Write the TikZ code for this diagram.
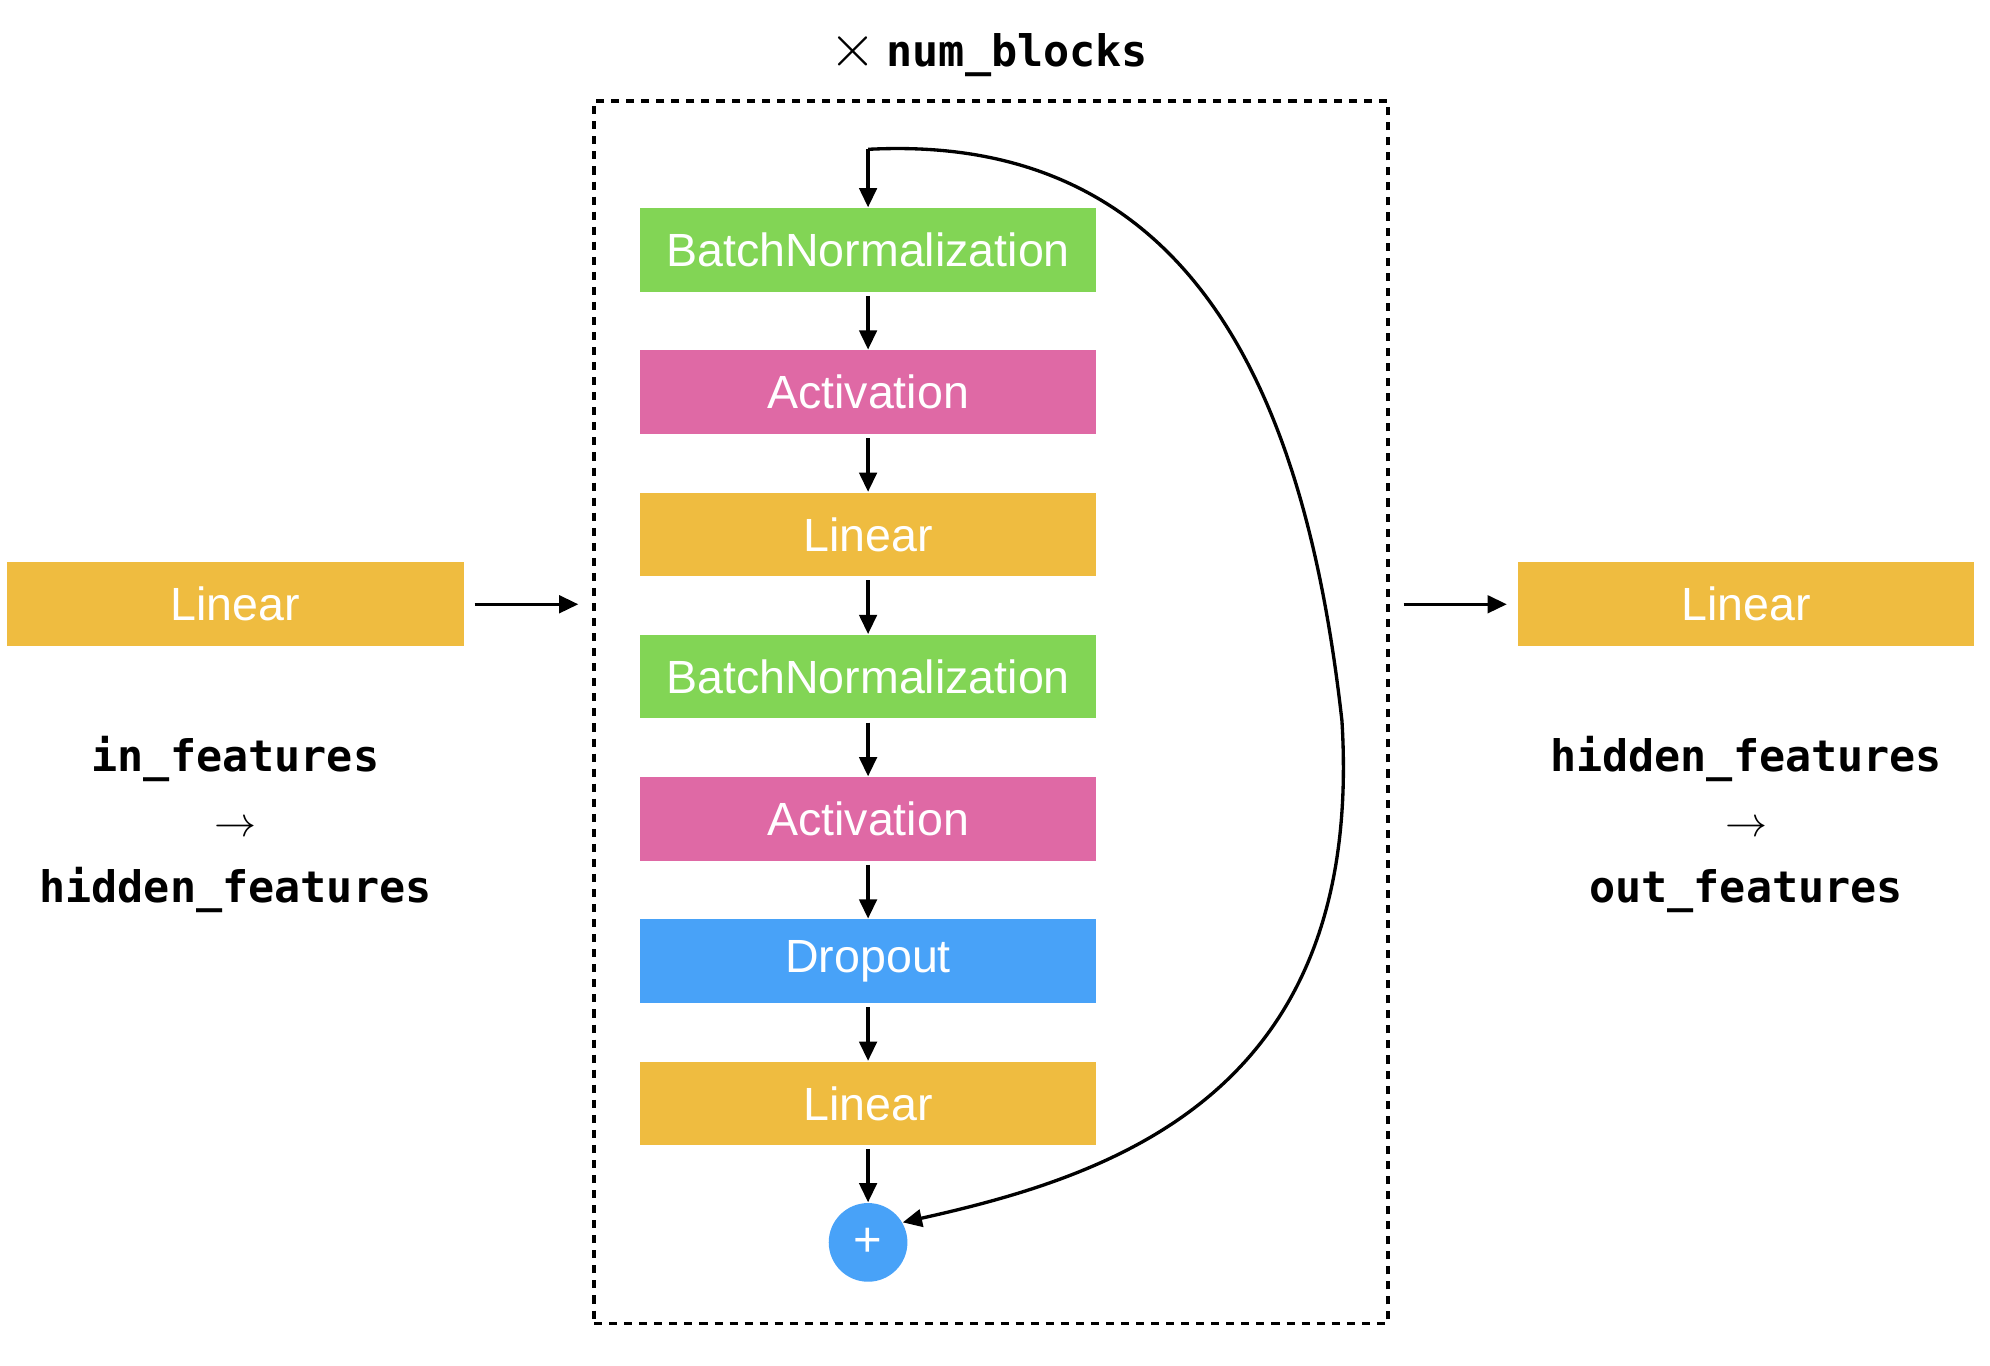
\documentclass[tikz,border=0pt]{standalone}
\usepackage{fontspec}
\setmainfont{Liberation Sans}
\newfontfamily\codefont{DejaVu Sans Mono}
\usetikzlibrary{arrows.meta}

\definecolor{bncolor}{RGB}{130,213,85}
\definecolor{actcolor}{RGB}{223,105,165}
\definecolor{lincolor}{RGB}{239,188,64}
\definecolor{dropcolor}{RGB}{72,162,248}

\tikzset{
  layer/.style={fill=#1, text=white, minimum width=4.58cm, minimum height=0.84cm,
    inner sep=0pt, font=\fontsize{13.3}{15}\selectfont},
  feat/.style={font=\codefont\bfseries\fontsize{12.4}{18.7}\selectfont, align=center},
  conn/.style={-{Triangle[length=5.5pt,width=5pt]}, line width=0.95pt},
}

\begin{document}
\begin{tikzpicture}[x=0.01cm,y=-0.01cm]
        \useasboundingbox (0,0) rectangle (1999,1372);

        % Outer layers.
        \node[layer=lincolor] (linin) at (236.5,607) {Linear};
        \node[layer=lincolor] (linout) at (1754,607) {Linear};
        \node[feat] (featin) at (236.5,828) {in\_features\\$\rightarrow$\\hidden\_features};
        \node[feat] (featout) at (1754,828) {hidden\_features\\$\rightarrow$\\out\_features};

        % Repeated block.
        \node[draw, dash pattern=on 2.3pt off 2pt, line width=1pt, minimum width=7.97cm,
          minimum height=12.27cm, inner sep=0pt] (blk) at (995.5,715.5) {};
        \node[feat] (reps) at (993,54) {{\fontsize{17}{18}\selectfont$\times$}\hspace{3pt}num\_blocks};

        % Layers of one block.
        \foreach \nm/\col/\txt [count=\i from 0] in {bna/bncolor/BatchNormalization,
          acta/actcolor/Activation, lina/lincolor/Linear, bnb/bncolor/BatchNormalization,
          actb/actcolor/Activation, drop/dropcolor/Dropout, linb/lincolor/Linear}
          \node[layer=\col] (\nm) at (872,251+142.9*\i) {\txt};
        \node[circle, fill=dropcolor, text=white, minimum size=0.79cm, inner sep=0pt,
          font=\fontsize{14}{15}\selectfont] (plus) at (872,1248) {+};

        % Main path.
        \foreach \a/\b in {bna/acta, acta/lina, lina/bnb, bnb/actb, actb/drop, drop/linb, linb/plus}
          \draw[conn, shorten <=1pt] (\a.south) -- (\b.north);

        % Skip connection.
        \coordinate (skip) at (872,150);
        \draw[conn] (skip) -- (bna.north);
        \draw[conn] (skip) .. controls (1212,132) and (1314,421) .. (1348,724)
          .. controls (1371,1097) and (1122,1180) .. (plus.30);

        % In and out of the block.
        \draw[conn, shorten <=3pt, shorten >=4pt] (linin.east) -- (linin.east -| blk.west);
        \draw[conn, shorten <=4pt, shorten >=3pt] (linout.west -| blk.east) -- (linout.west);
\end{tikzpicture}
\end{document}
